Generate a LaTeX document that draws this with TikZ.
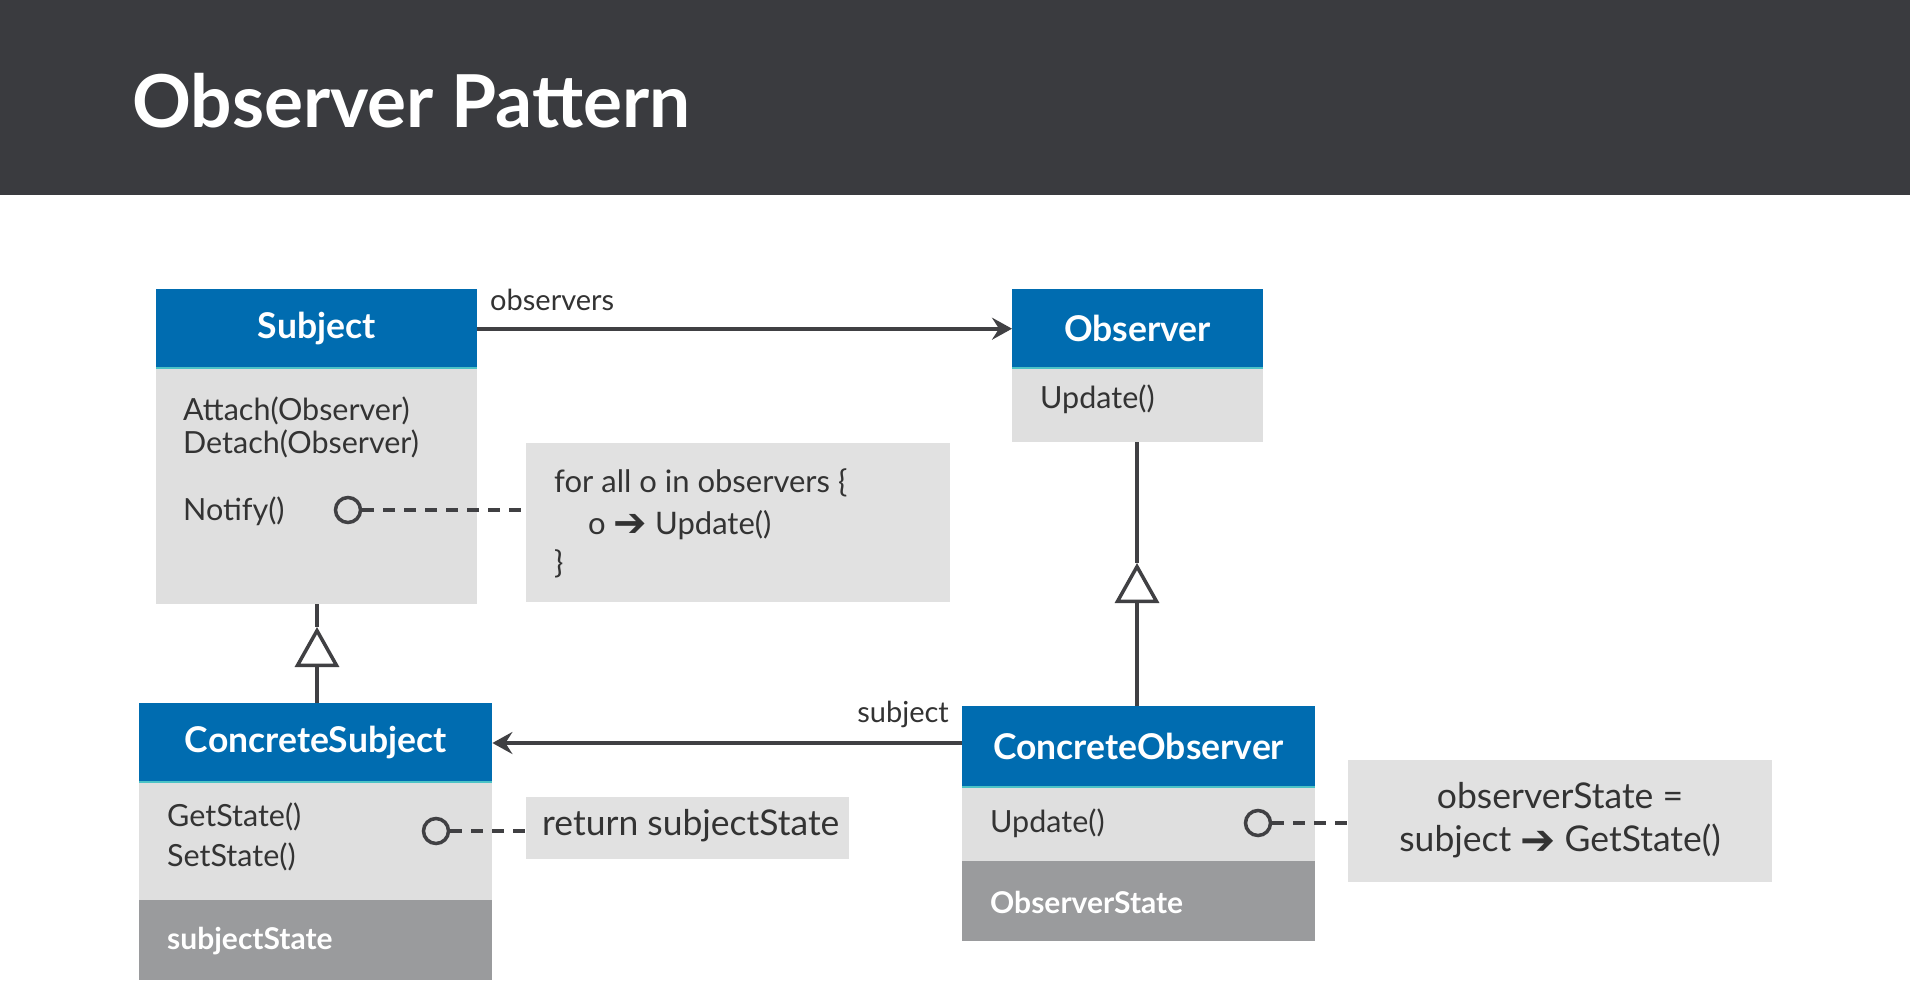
\documentclass[tikz,border=0pt]{standalone}
\usepackage{fontspec}
\setmainfont{Lato}
\newfontfamily\sym{DejaVu Sans}
\usetikzlibrary{arrows.meta}
\definecolor{topbar}{HTML}{3A3B3F}
\definecolor{clsblue}{HTML}{006CB0}
\definecolor{bodygray}{HTML}{DFDFDF}
\definecolor{attrgray}{HTML}{9A9B9D}
\definecolor{notegray}{HTML}{E1E1E1}
\definecolor{linegray}{HTML}{404043}
\definecolor{txtgray}{HTML}{333333}
\definecolor{tealline}{HTML}{4CC3C6}
\newcommand{\heavyarrow}[1]{{\sym\bfseries\fontsize{#1}{#1}\selectfont\raisebox{-0.06em}{➔}}}
\tikzset{
  boxbase/.style={rectangle, inner sep=0, anchor=north west, draw=none},
  hdrbox/.style={boxbase, fill=clsblue, text=white, font=\fontsize{35.5}{40}\selectfont\bfseries},
  bodybox/.style={boxbase, fill=bodygray},
  attrbox/.style={boxbase, fill=attrgray},
  notebox/.style={boxbase, fill=notegray},
  mtext/.style={inner sep=0, anchor=west, text=txtgray, font=\fontsize{30.5}{35}\selectfont},
  atext/.style={inner sep=0, anchor=west, text=white, font=\fontsize{30}{35}\selectfont\bfseries},
  ntext/.style={inner sep=0, text=txtgray, font=\fontsize{31}{36}\selectfont},
  nbtext/.style={inner sep=0, text=txtgray, font=\fontsize{35.5}{40}\selectfont},
  lbltext/.style={inner sep=0, text=txtgray, font=\fontsize{29}{33}\selectfont},
  conn/.style={draw=linegray, line width=4},
  assoc/.style={conn, -{Stealth[length=20,width=22,inset=7]}},
  inh/.style={conn, -{Triangle[open, length=40, width=44, line width=3.5, fill=white]}},
  lolly/.style={circle, draw=linegray, line width=3.5, minimum size=25, inner sep=0},
  dashln/.style={draw=linegray, line width=4.5, dash pattern=on 12 off 9},
}
\begin{document}
\begin{tikzpicture}[x=1pt, y=-1pt]
\fill[white] (0,0) rectangle (1910,1007);
\fill[topbar] (0,0) rectangle (1910,195);
\node[inner sep=0, anchor=base west, text=white, font=\fontsize{73}{80}\selectfont\bfseries] (title) at (132,127) {Observer Pattern};

% Subject
\node[hdrbox, minimum width=321, minimum height=79] (subh) at (156,289) {Subject};
\node[bodybox, minimum width=321, minimum height=236] (subb) at (156,368) {};
\draw[tealline, line width=2] (subb.north west) -- (subb.north east);
\node[mtext] (att) at (183,411) {Attach(Observer)};
\node[mtext] (det) at (183,444) {Detach(Observer)};
\node[mtext] (ntf) at (183,511) {Notify()};
\node[lolly] (c1) at (348,510) {};

% Observer
\node[hdrbox, minimum width=251, minimum height=79] (obsh) at (1012,289) {Observer};
\node[bodybox, minimum width=251, minimum height=74] (obsb) at (1012,368) {};
\draw[tealline, line width=2] (obsb.north west) -- (obsb.north east);
\node[mtext] (oupd) at (1040,399) {Update()};

% Note 1
\node[notebox, minimum width=424, minimum height=159] (n1) at (526,443) {};
\node[ntext, anchor=west] (n1a) at (554,483) {for all o in observers \{};
\node[ntext, anchor=west] (n1b) at (588,525) {o \heavyarrow{40} Update()};
\node[ntext, anchor=west] (n1c) at (554,564) {\}};

% ConcreteSubject
\node[hdrbox, minimum width=353, minimum height=79] (csh) at (139,703) {ConcreteSubject};
\node[bodybox, minimum width=353, minimum height=118] (csb) at (139,782) {};
\draw[tealline, line width=2] (csb.north west) -- (csb.north east);
\node[attrbox, minimum width=353, minimum height=80] (csa) at (139,900) {};
\node[mtext] (gst) at (167,817) {GetState()};
\node[mtext] (sst) at (167,857) {SetState()};
\node[atext] (sstate) at (167,941) {subjectState};
\node[lolly] (c2) at (436,831) {};

% Note 2
\node[notebox, minimum width=323, minimum height=62] (n2) at (526,797) {};
\node[nbtext, anchor=west] (n2a) at (542,826) {return subjectState};

% ConcreteObserver
\node[hdrbox, minimum width=353, minimum height=81] (coh) at (962,706) {ConcreteObserver};
\node[bodybox, minimum width=353, minimum height=74] (cob) at (962,787) {};
\draw[tealline, line width=2] (cob.north west) -- (cob.north east);
\node[attrbox, minimum width=353, minimum height=80] (coa) at (962,861) {};
\node[mtext] (cupd) at (990,823) {Update()};
\node[atext] (ostate) at (990,902) {ObserverState};
\node[lolly] (c3) at (1258,823) {};

% Note 3
\node[notebox, minimum width=424, minimum height=122] (n3) at (1348,760) {};
\node[nbtext, anchor=center] (n3a) at (1560,796) {observerState =};
\node[nbtext, anchor=center] (n3b) at (1560,841) {subject \heavyarrow{42} GetState()};

% connectors
\draw[assoc] (subh.east) -- (obsh.west);
\node[lbltext, anchor=west] (lobs) at (490,300) {observers};
\draw[assoc] (coh.west |- 0,743) coordinate (cofrom) -- (csh.east |- 0,743) coordinate (csto);
\node[lbltext, anchor=east] (lsub) at (949,714) {subject};

\coordinate (tip1) at (317,627);
\draw[conn] (subb.south -| tip1) -- (tip1);
\draw[inh] (csh.north -| tip1) -- (tip1);
\coordinate (tip2) at (1137,563);
\draw[conn] (obsb.south -| tip2) -- (tip2);
\draw[inh] (coh.north -| tip2) -- (tip2);

\draw[dashln] (c1.east) -- (n1.west |- c1.east);
\draw[dashln] (c2.east) -- (n2.west |- c2.east);
\draw[dashln] (c3.east) -- (n3.west |- c3.east);
\end{tikzpicture}
\end{document}
